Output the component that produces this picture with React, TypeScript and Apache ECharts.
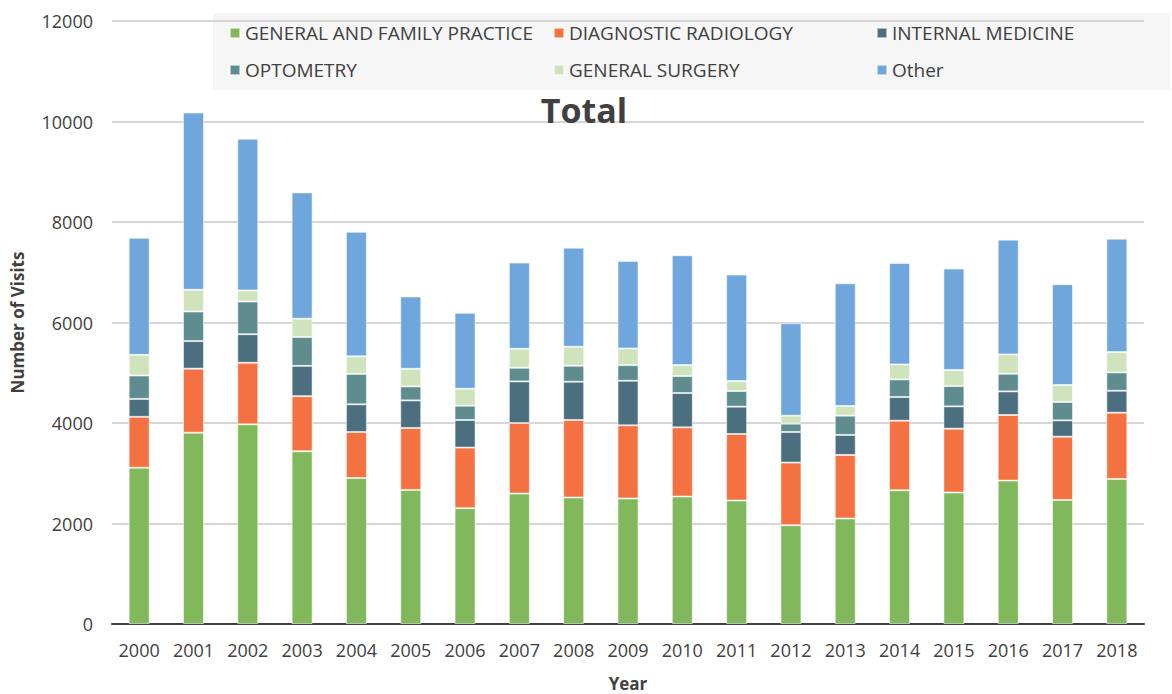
import React, { useEffect, useRef } from "react";
import * as echarts from "echarts";

const years = ["2000","2001","2002","2003","2004","2005","2006","2007","2008","2009","2010","2011","2012","2013","2014","2015","2016","2017","2018"];
const generalFamily = [3110, 3808, 3973, 3438, 2905, 2669, 2305, 2596, 2517, 2497, 2536, 2457, 1967, 2099, 2662, 2616, 2854, 2470, 2887];
const diagnosticRadiology = [1013, 1274, 1226, 1096, 915, 1232, 1205, 1404, 1543, 1457, 1378, 1324, 1245, 1265, 1384, 1271, 1305, 1258, 1318];
const internalMedicine = [356, 548, 568, 603, 552, 549, 550, 828, 761, 887, 682, 544, 609, 398, 471, 444, 470, 325, 437];
const optometry = [466, 589, 651, 575, 605, 278, 284, 271, 318, 311, 338, 311, 166, 384, 351, 404, 351, 364, 365];
const generalSurgery = [411, 432, 219, 363, 350, 351, 338, 378, 378, 331, 218, 198, 159, 192, 298, 318, 384, 338, 404];
const other = [2329, 3527, 3021, 2514, 2478, 1438, 1510, 1715, 1973, 1742, 2186, 2120, 1841, 2443, 2019, 2020, 2285, 2007, 2258];

const yTicks = [0, 2000, 4000, 6000, 8000, 10000, 12000];

const seriesDefs = [
  { name: "GENERAL AND FAMILY PRACTICE", data: generalFamily, color: "#80b85b" },
  { name: "DIAGNOSTIC RADIOLOGY", data: diagnosticRadiology, color: "#f47142" },
  { name: "INTERNAL MEDICINE", data: internalMedicine, color: "#4b6f7f" },
  { name: "OPTOMETRY", data: optometry, color: "#5f8d8f" },
  { name: "GENERAL SURGERY", data: generalSurgery, color: "#cfe4bc" },
  { name: "Other", data: other, color: "#6fa6dc" },
];

const FONT = "'Open Sans', 'DejaVu Sans', sans-serif";
const legendPos = [
  [229, 33], [553, 33], [876, 33],
  [229, 70], [553, 70], [876, 70],
];

export default function App() {
  const ref = useRef<HTMLDivElement>(null);
  useEffect(() => {
    if (!ref.current) return;
    const chart = echarts.init(ref.current, null, { renderer: "svg" });
    const option: any = {
      animation: false,
      backgroundColor: "#ffffff",
      textStyle: { fontFamily: FONT },
      title: {
        text: "Total",
        left: 579,
        top: 88,
        textAlign: "center",
        textStyle: { fontFamily: FONT, fontSize: 34, fontWeight: "bold", color: "#404040" },
      },
      graphic: [
        {
          type: "rect",
          z: -10,
          shape: { x: 213, y: 13, width: 957, height: 77 },
          style: { fill: "rgba(0,0,0,0.035)" },
          silent: true,
        },
      ],
      legend: seriesDefs.map((s, i) => ({
        data: [s.name],
        left: legendPos[i][0],
        top: legendPos[i][1] - 12,
        padding: 0,
        itemWidth: 10,
        itemHeight: 10,
        itemGap: 5,
        icon: "rect",
        textStyle: { fontFamily: FONT, fontSize: 19, color: "#404040", lineHeight: 24, padding: [0, 0, 0, 0] },
      })),
      grid: { left: 112, right: 28, top: 21, bottom: 70, containLabel: false, outerBoundsMode: "none" },
      xAxis: {
        type: "category",
        data: years,
        name: "Year",
        nameLocation: "middle",
        nameGap: 51,
        nameTextStyle: { fontFamily: FONT, fontSize: 17, fontWeight: "bold", color: "#404040", lineHeight: 17 },
        axisLine: { lineStyle: { color: "#404040", width: 2 } },
        axisTick: { show: false },
        axisLabel: { fontFamily: FONT, fontSize: 18, color: "#404040", margin: 17 },
      },
      yAxis: {
        type: "value",
        min: yTicks[0],
        max: yTicks[yTicks.length - 1],
        interval: 2000,
        name: "Number of Visits",
        nameLocation: "middle",
        nameGap: 86,
        nameTextStyle: { fontFamily: FONT, fontSize: 17, fontWeight: "bold", color: "#404040" },
        axisLine: { show: false },
        axisTick: { show: false },
        axisLabel: { fontFamily: FONT, fontSize: 18, color: "#404040", margin: 19, formatter: (v: number) => String(v) },
        splitLine: { lineStyle: { color: "#c8c8c8", width: 1.5 } },
      },
      series: seriesDefs.map((s) => ({
        name: s.name,
        type: "bar",
        stack: "total",
        data: s.data,
        barWidth: 21,
        itemStyle: { color: s.color, borderColor: "rgba(255,255,255,0.55)", borderWidth: 1 },
        emphasis: { disabled: true },
      })),
    };
    chart.setOption(option);
    return () => chart.dispose();
  }, []);
  return <div ref={ref} style={{ position: "fixed", left: 0, top: 0, width: 1172, height: 694 }} />;
}
